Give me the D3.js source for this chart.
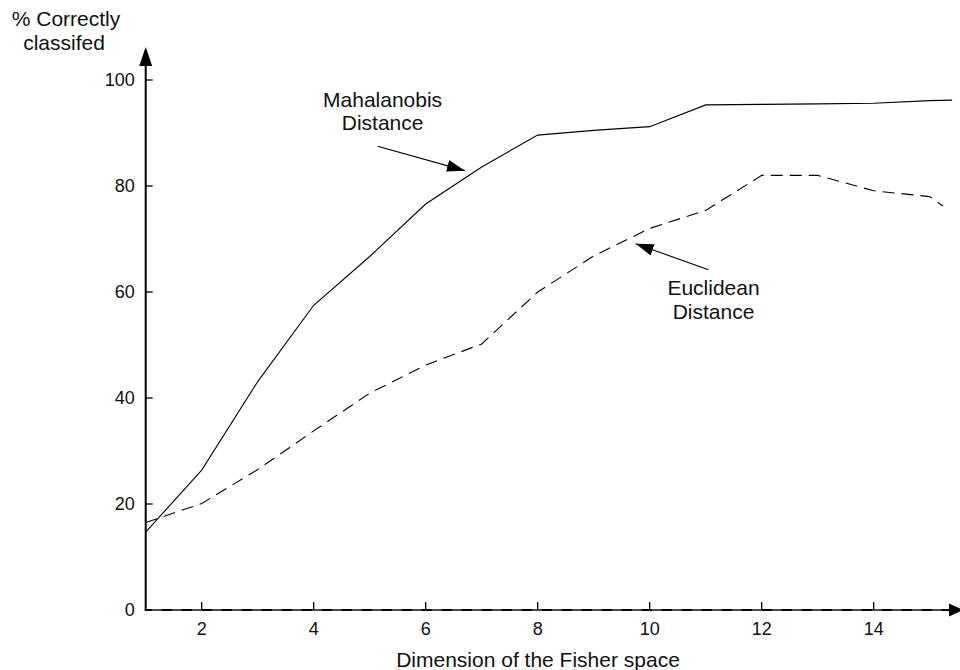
<!DOCTYPE html>
<html>
<head>
<meta charset="utf-8">
<script src="https://cdn.jsdelivr.net/npm/d3@7"></script>
<style>
  body { margin: 0; background: #fff; }
  text { font-family: "Liberation Sans", Arial, sans-serif; fill: #111; }
</style>
</head>
<body>
<div class="chart-container"></div>
<script>
//! DATA
const MAHA_DIMS = [1, 2, 3, 4, 5, 6, 7, 8, 9, 10, 11, 12, 13, 14, 15, 15.4];
const MAHA_VALUES = [14.7, 26.4, 43.1, 57.5, 66.7, 76.6, 83.6, 89.6, 90.5, 91.2, 95.3, 95.4, 95.5, 95.6, 96.1, 96.2];
const EUCL_DIMS = [1, 2, 3, 4, 5, 6, 7, 8, 9, 10, 11, 12, 13, 14, 15, 15.24];
const EUCL_VALUES = [16.5, 20.1, 26.5, 33.8, 40.9, 46.2, 50.2, 60.0, 66.8, 72.0, 75.4, 82.0, 82.0, 79.1, 78.0, 76.2];
const X_TICKS = [2, 4, 6, 8, 10, 12, 14];
const Y_TICKS = [0, 20, 40, 60, 80, 100];

//! CONSTS
const WIDTH = 960;
const HEIGHT = 670;
const LABEL_SIZE = 21;
const TICK_SIZE = 18;

const svg = d3.select('.chart-container')
  .append('svg')
  .attr('width', WIDTH)
  .attr('height', HEIGHT);

// scales
const x = d3.scaleLinear().domain([1, 15]).range([145.7, 929.7]);
const y = d3.scaleLinear().domain([0, 100]).range([610, 80]);

// arrow heads
const defs = svg.append('defs');
defs.append('marker')
  .attr('id', 'head')
  .attr('viewBox', '0 0 18 12')
  .attr('refX', 18).attr('refY', 6)
  .attr('markerWidth', 18).attr('markerHeight', 12)
  .attr('markerUnits', 'userSpaceOnUse')
  .attr('orient', 'auto')
  .append('path').attr('d', 'M0,0 L18,6 L0,12 Z').attr('fill', '#000');

//! AXES
const x0 = x(1), y0 = y(0);

// y axis with arrow
svg.append('path')
  .attr('d', `M${x0},${y0} V50`)
  .attr('stroke', '#000').attr('stroke-width', 2);
svg.append('path')
  .attr('d', `M${x0},47 l-6.5,19 h13 Z`)
  .attr('fill', '#000');

// x axis with arrow
svg.append('path')
  .attr('d', `M${x0 - 1},${y0} H952`)
  .attr('stroke', '#000').attr('stroke-width', 2.2);
svg.append('path')
  .attr('d', `M${x0 + 6},${y0} H952`)
  .attr('stroke', '#4a4a4a').attr('stroke-width', 2.2)
  .attr('stroke-dasharray', '10,10');
svg.append('path')
  .attr('d', `M963,${y0} l-14,-6.5 v13 Z`)
  .attr('fill', '#000');

// y ticks
const yt = svg.append('g').selectAll('g').data(Y_TICKS).enter().append('g');
yt.filter(d => d > 0).append('line')
  .attr('x1', x0).attr('x2', x0 + 7)
  .attr('y1', d => y(d)).attr('y2', d => y(d))
  .attr('stroke', '#000').attr('stroke-width', 1.3);
yt.append('text')
  .attr('x', x0 - 11).attr('y', d => y(d))
  .attr('dy', '0.36em')
  .attr('text-anchor', 'end')
  .attr('font-size', TICK_SIZE)
  .text(d => d);

// x ticks
const xt = svg.append('g').selectAll('g').data(X_TICKS).enter().append('g');
xt.append('line')
  .attr('x1', d => x(d)).attr('x2', d => x(d))
  .attr('y1', y0).attr('y2', y0 - 8)
  .attr('stroke', '#000').attr('stroke-width', 1.3);
xt.append('text')
  .attr('x', d => x(d)).attr('y', y0 + 25)
  .attr('text-anchor', 'middle')
  .attr('font-size', TICK_SIZE)
  .text(d => d);

// axis titles
svg.append('text')
  .attr('x', 538).attr('y', 667)
  .attr('text-anchor', 'middle')
  .attr('font-size', LABEL_SIZE)
  .text('Dimension of the Fisher space');
const ytitle = svg.append('text')
  .attr('text-anchor', 'middle')
  .attr('font-size', LABEL_SIZE);
ytitle.append('tspan').attr('x', 66).attr('y', 26).text('% Correctly');
ytitle.append('tspan').attr('x', 64).attr('y', 49.5).text('classifed');

//! LINES
const line = d3.line()
  .x(d => x(d[0]))
  .y(d => y(d[1]));

svg.append('path')
  .datum(d3.zip(MAHA_DIMS, MAHA_VALUES))
  .attr('d', line)
  .attr('fill', 'none')
  .attr('stroke', '#000')
  .attr('stroke-width', 1.1);

svg.append('path')
  .datum(d3.zip(EUCL_DIMS, EUCL_VALUES))
  .attr('d', line)
  .attr('fill', 'none')
  .attr('stroke', '#000')
  .attr('stroke-width', 1.1)
  .attr('stroke-dasharray', '12,7');

//! ANNOTATIONS (in data units)
function note(lines, cx, baseY, tail, tip) {
  const t = svg.append('text')
    .attr('text-anchor', 'middle')
    .attr('font-size', LABEL_SIZE);
  lines.forEach((s, i) => {
    t.append('tspan').attr('x', x(cx)).attr('y', y(baseY) + i * 23.5).text(s);
  });
  svg.append('line')
    .attr('x1', x(tail[0])).attr('y1', y(tail[1]))
    .attr('x2', x(tip[0])).attr('y2', y(tip[1]))
    .attr('stroke', '#000').attr('stroke-width', 1.1)
    .attr('marker-end', 'url(#head)');
}

note(['Mahalanobis', 'Distance'], 5.23, 95.0, [5.14, 87.5], [6.70, 82.9]);
note(['Euclidean', 'Distance'], 11.14, 59.4, [11.05, 64.2], [9.75, 69.1]);
</script>
</body>
</html>
